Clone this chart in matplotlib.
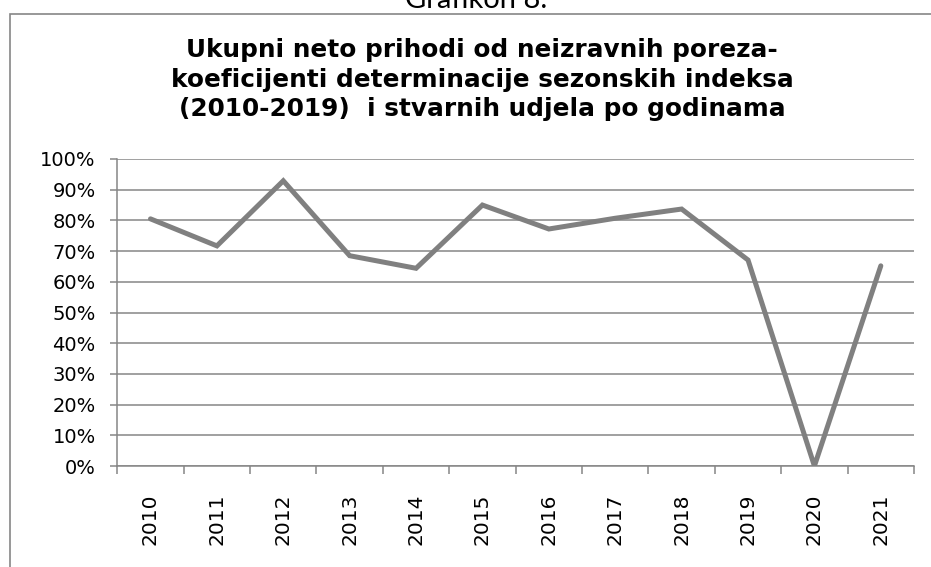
import matplotlib
matplotlib.use("Agg")
import matplotlib.pyplot as plt
from matplotlib.patches import Rectangle
from matplotlib.ticker import FixedLocator, PercentFormatter

years = ["2010", "2011", "2012", "2013", "2014", "2015",
         "2016", "2017", "2018", "2019", "2020", "2021"]
shares = [0.805, 0.717, 0.929, 0.685, 0.644, 0.850,
          0.772, 0.807, 0.837, 0.671, 0.0, 0.652]
yticks = [0.0, 0.1, 0.2, 0.3, 0.4, 0.5, 0.6, 0.7, 0.8, 0.9, 1.0]

title = ("Ukupni neto prihodi od neizravnih poreza-\n"
         "koeficijenti determinacije sezonskih indeksa\n"
         "(2010-2019)  i stvarnih udjela po godinama")

W, H = 931, 567
grey = "#868686"
line_grey = "#808080"

fig = plt.figure(figsize=(W / 100, H / 100), dpi=100)

# outer chart frame (right and bottom run off the page)
fig.patches.append(Rectangle((9.5 / W, -0.05), 1.0, (H - 13.5) / H + 0.05,
                             transform=fig.transFigure, fill=False,
                             edgecolor=grey, linewidth=1.2))

fig.text(476 / W, 1 - 8 / H, "Grafikon 8.", ha="center", va="baseline",
         fontsize=21, family="Lato", color="black")

fig.text(482 / W, 1 - 38 / H, title, ha="center", va="top",
         fontsize=17.8, fontweight="bold", family="DejaVu Sans",
         linespacing=1.3)

left, right, top, bottom = 117.3, 914, 159, 466
ax = fig.add_axes([left / W, 1 - bottom / H, (right - left) / W, (bottom - top) / H])

x = list(range(len(years)))
ax.plot(x, shares, color=line_grey, linewidth=3.6, solid_joinstyle="miter",
        solid_capstyle="round", zorder=3)

ax.set_xlim(-0.5, len(years) - 0.5)
ax.set_ylim(0, 1)

ax.set_yticks(yticks)
ax.yaxis.set_major_formatter(PercentFormatter(1.0, decimals=0))
ax.grid(axis="y", color=grey, linewidth=1.1)
ax.set_axisbelow(True)

# tick marks sit between categories, labels on the categories
ax.xaxis.set_major_locator(FixedLocator([i - 0.5 for i in range(len(years) + 1)]))
ax.xaxis.set_major_formatter(plt.NullFormatter())
ax.xaxis.set_minor_locator(FixedLocator(x))
ax.set_xticklabels(years, minor=True, rotation=90, fontsize=14.5)
ax.tick_params(axis="x", which="minor", length=0, pad=20)
ax.tick_params(axis="x", which="major", length=6, color=grey, width=1.1)
ax.tick_params(axis="y", length=5, color=grey, width=1.1, pad=10.5, labelsize=14)

for side in ("top", "right"):
    ax.spines[side].set_visible(False)
for side in ("left", "bottom"):
    ax.spines[side].set_color(grey)
    ax.spines[side].set_linewidth(1.1)

fig.savefig("out.png", dpi=100)
